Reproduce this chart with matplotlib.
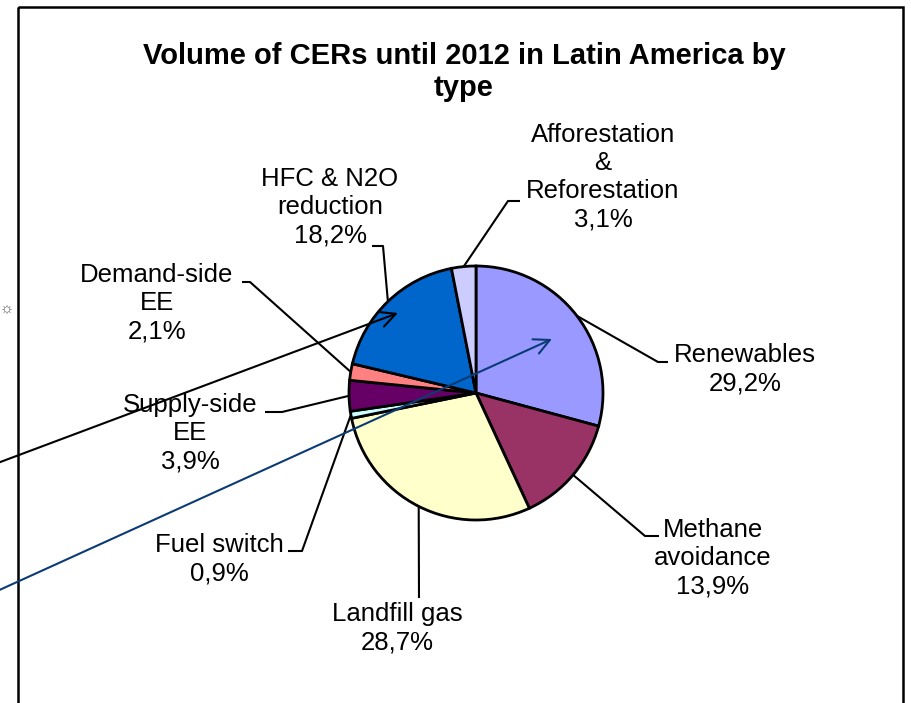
import matplotlib
matplotlib.use('Agg')
import matplotlib.pyplot as plt
import numpy as np
from matplotlib.patches import Rectangle

plt.rcParams['font.family'] = ['Liberation Sans', 'DejaVu Sans']

# data, clockwise from 12 o'clock
categories  = ['Renewables', 'Methane\navoidance', 'Landfill gas', 'Fuel switch',
               'Supply-side\nEE', 'Demand-side\nEE', 'HFC & N2O\nreduction',
               'Afforestation\n&\nReforestation']
shares      = [29.2, 13.9, 28.7, 0.9, 3.9, 2.1, 18.2, 3.1]
sliceColors = ['#9999FF', '#993366', '#FFFFCC', '#CCFFFF',
               '#660066', '#FF8080', '#0066CC', '#CCCCFF']
title = 'Volume of CERs until 2012 in Latin America by\ntype'

# layout (pixel coords, y down)
W, H = 911, 703
cx, cy, r = 476, 393, 127
labelPos = [(745, 369), (713, 558), (397, 628), (219, 559),
            (190, 433), (157, 303), (330, 207), (603, 177)]
leaderBends = [((658, 362), (668, 362)), ((645, 536), (659, 536)),
               ((419, 598), (419, 598)), ((302, 551), (288, 551)),
               ((282, 412), (265, 412)), ((250, 282), (242, 282)),
               ((383, 246), (372, 246)), ((508, 201), (520, 201))]

fig = plt.figure(figsize=(W / 100, H / 100), dpi=100)
ax = fig.add_axes([0, 0, 1, 1])

# y axis is inverted below, so counterclock in data = clockwise on screen
ax.pie(shares, colors=sliceColors, startangle=-90, counterclock=True,
       center=(cx, cy), radius=r, frame=False,
       wedgeprops=dict(edgecolor='black', linewidth=2))
ax.set_xlim(0, W)
ax.set_ylim(H, 0)
ax.set_aspect('equal')
ax.set_axis_off()

cum = np.cumsum([0] + shares[:-1])
total = float(sum(shares))
for i in range(len(shares)):
  theta = np.deg2rad(-90 + 360 * (cum[i] + shares[i] / 2) / total)
  ex, ey = cx + r * np.cos(theta), cy + r * np.sin(theta)
  (bx, by), (tx, ty) = leaderBends[i]
  ax.plot([ex, bx, tx], [ey, by, ty], color='black', lw=1.5, solid_capstyle='butt', zorder=1)
  txt = categories[i] + '\n' + ('%.1f%%' % shares[i]).replace('.', ',')
  ax.text(labelPos[i][0], labelPos[i][1], txt, ha='center', va='center',
          fontsize=18.5, linespacing=1.22)

ax.text(464, 72, title, ha='center', va='center', fontsize=21, fontweight='bold', linespacing=1.15)

# stray arrows coming in from the left
ax.annotate('', xy=(398, 313), xytext=(-5, 464),
            arrowprops=dict(arrowstyle='->', color='black', lw=1.5,
                            mutation_scale=28, shrinkA=0, shrinkB=0), zorder=5)
ax.annotate('', xy=(552, 339), xytext=(-5, 592),
            arrowprops=dict(arrowstyle='->', color='#0B3B75', lw=1.5,
                            mutation_scale=28, shrinkA=0, shrinkB=0), zorder=5)

ax.add_patch(Rectangle((18, 7), 885, 720, fill=False, ec='black', lw=1.8))
ax.text(7, 309, '\u263c', fontsize=11, color='#555555', ha='center', va='center')

fig.savefig('out.png', dpi=100)
